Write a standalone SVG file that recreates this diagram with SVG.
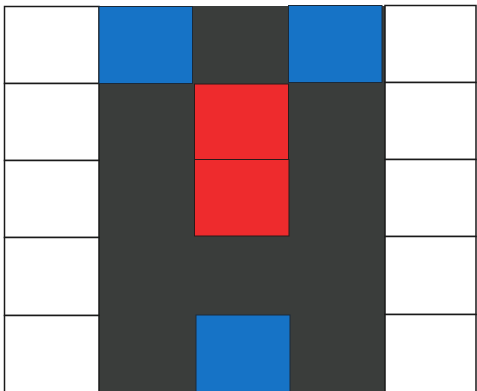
<svg xmlns="http://www.w3.org/2000/svg" width="477" height="391" viewBox="0 0 477 391">
<style>
.w{fill:#ffffff;stroke:#1a1a1a;stroke-width:1.5}
.d{fill:#3a3d3b}
.b{fill:#1673c6;stroke:#1a2a3a;stroke-width:1}
.r{fill:#ee2b2d;stroke:#2a1a1a;stroke-width:1}
.ln{stroke:#1a1a1a;stroke-width:1.5;fill:none}
</style>
<rect width="477" height="391" fill="#ffffff"/>
<g id="dark-area"><rect class="d" x="99" y="6" width="286" height="385"/></g>
<g id="left-cells">
<rect class="w" x="4.5" y="6.5" width="94.5" height="77"/>
<rect class="w" x="4.5" y="83.5" width="94.5" height="77"/>
<rect class="w" x="4.5" y="160.5" width="94.5" height="77"/>
<rect class="w" x="4.5" y="237.5" width="94.5" height="78"/>
<rect class="w" x="4.5" y="315.5" width="94.5" height="78"/>
</g>
<g id="right-cells">
<rect class="w" x="385" y="5.5" width="91" height="77"/>
<rect class="w" x="385" y="82.5" width="91" height="77"/>
<rect class="w" x="385" y="159.5" width="91" height="77"/>
<rect class="w" x="385" y="236.5" width="91" height="78"/>
<rect class="w" x="385" y="314.5" width="91" height="78"/>
</g>
<g id="blue-top-left"><rect class="b" x="99" y="6.5" width="93.5" height="77"/></g>
<g id="blue-top-right"><rect class="b" x="288.5" y="5.5" width="93.5" height="77"/></g>
<g id="red-upper"><rect class="r" x="194.5" y="84" width="94" height="75.5"/></g>
<g id="red-lower"><rect class="r" x="194.5" y="159.5" width="94.5" height="76.5"/></g>
<g id="blue-bottom"><rect class="b" x="196" y="315" width="94" height="77"/></g>
<g id="connectors"></g>
</svg>
